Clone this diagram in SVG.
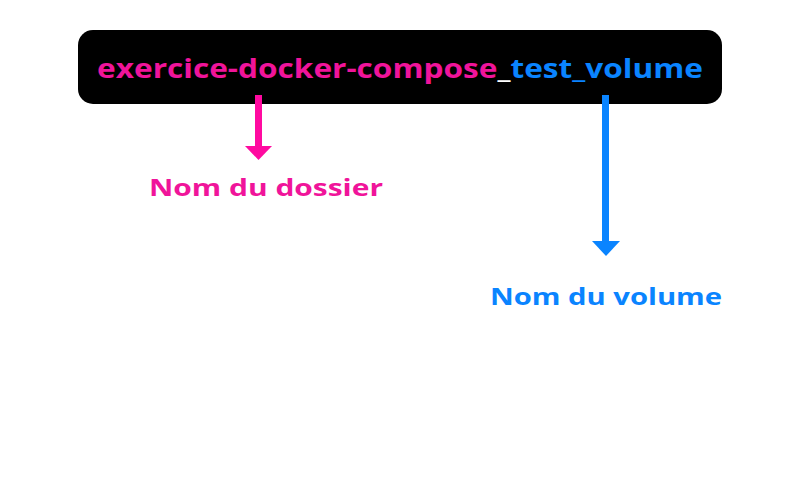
<svg xmlns="http://www.w3.org/2000/svg" width="800" height="500" viewBox="0 0 800 500">
<style>
.t{font-family:"Open Sans","Liberation Sans",sans-serif;font-weight:bold}
.pk{fill:#f0149a}.bl{fill:#0a84ff}
</style>
<rect width="800" height="500" fill="#fff"/>
<g id="name">
<rect x="78" y="30" width="644" height="74" rx="15" fill="#000"/>
<text class="t" x="400" y="78" font-size="27" text-anchor="middle" textLength="606" lengthAdjust="spacingAndGlyphs"><tspan class="pk">exercice-docker-compose</tspan><tspan fill="#fff">_</tspan><tspan class="bl">test_volume</tspan></text>
</g>
<g id="connectors">
<rect x="255" y="95" width="7" height="52" fill="#ff0aa0"/>
<polygon points="245,146 272,146 258.5,160" fill="#ff0aa0"/>
<rect x="602" y="95" width="7" height="147" fill="#0a84ff"/>
<polygon points="592,241 620,241 606,256" fill="#0a84ff"/>
</g>
<g id="dossier"><text class="t pk" x="266" y="196" font-size="24" text-anchor="middle" textLength="234" lengthAdjust="spacingAndGlyphs">Nom du dossier</text></g>
<g id="volume"><text class="t bl" x="606" y="305" font-size="24" text-anchor="middle" textLength="232" lengthAdjust="spacingAndGlyphs">Nom du volume</text></g>
</svg>
